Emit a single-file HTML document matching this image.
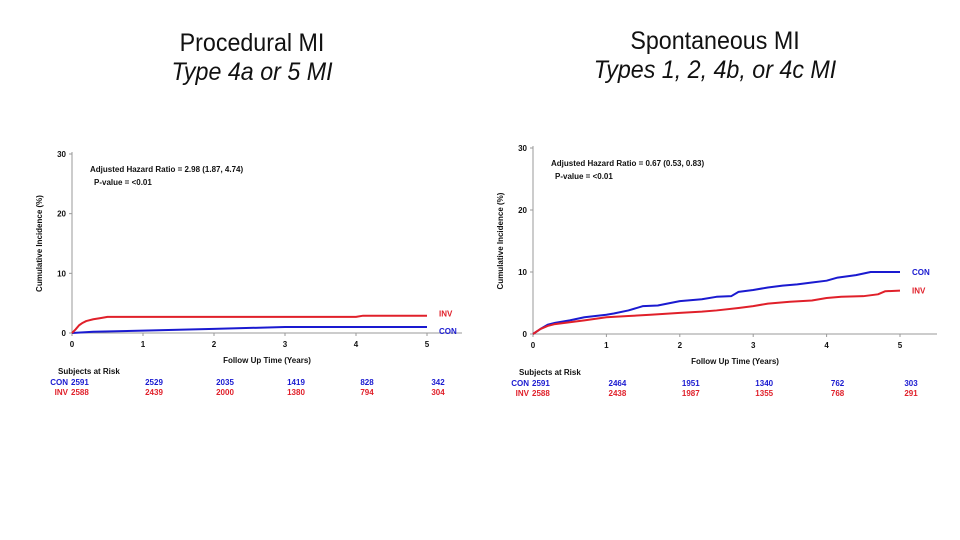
<!DOCTYPE html>
<html><head><meta charset="utf-8">
<style>
body{margin:0;width:960px;height:540px;background:#fff;overflow:hidden;font-family:"Liberation Sans",sans-serif}
.t{position:absolute;text-align:center;color:#111;font-family:"Liberation Sans",sans-serif}
</style></head><body>
<div class="t" style="left:100px;width:304px;top:29px;font-size:25px;transform:scaleX(0.93)">Procedural MI</div>
<div class="t" style="left:100px;width:304px;top:58px;font-size:25px;font-style:italic;transform:scaleX(0.93)">Type 4a or 5 MI</div>
<div class="t" style="left:560px;width:310px;top:27px;font-size:25px;transform:scaleX(0.93)">Spontaneous MI</div>
<div class="t" style="left:560px;width:310px;top:56px;font-size:25px;font-style:italic;transform:scaleX(0.93)">Types 1, 2, 4b, or 4c MI</div>
<svg id="svg" width="960" height="540" style="position:absolute;left:0;top:0"></svg>
<script>
const yTicks=[0,10,20,30];
const xTicks=[0,1,2,3,4,5];
// Left chart data
const leftInvT=[0,0.05,0.1,0.15,0.2,0.3,0.4,0.5,1,2,3,4,4.1,5];
const leftInvV=[0,0.6,1.3,1.7,2.0,2.3,2.5,2.7,2.7,2.7,2.7,2.7,2.9,2.9];
const leftConT=[0,0.3,1,2,3,4,5];
const leftConV=[0,0.2,0.4,0.7,1.0,1.0,1.0];
const leftConRisk=[2591,2529,2035,1419,828,342];
const leftInvRisk=[2588,2439,2000,1380,794,304];
// Right chart data
const rightConT=[0,0.1,0.2,0.3,0.5,0.7,1,1.1,1.3,1.5,1.7,2,2.3,2.5,2.7,2.8,3,3.2,3.4,3.6,3.8,4,4.15,4.4,4.6,5];
const rightConV=[0,0.8,1.5,1.8,2.2,2.7,3.1,3.3,3.8,4.5,4.6,5.3,5.6,6.0,6.1,6.8,7.1,7.5,7.8,8.0,8.3,8.6,9.1,9.5,10.0,10.0];
const rightInvT=[0,0.1,0.2,0.3,0.5,0.7,1,1.3,1.6,2,2.3,2.5,2.8,3,3.2,3.5,3.8,4,4.2,4.5,4.7,4.8,5];
const rightInvV=[0,0.8,1.3,1.6,1.9,2.2,2.7,2.9,3.1,3.4,3.6,3.8,4.2,4.5,4.9,5.2,5.4,5.8,6.0,6.1,6.4,6.9,7.0];
const rightConRisk=[2591,2464,1951,1340,762,303];
const rightInvRisk=[2588,2438,1987,1355,768,291];
const ns="http://www.w3.org/2000/svg",svg=document.getElementById('svg');
function mk(tag,a,txt){const e=document.createElementNS(ns,tag);for(const k in a)e.setAttribute(k,a[k]);if(txt!==undefined)e.textContent=txt;svg.appendChild(e);return e;}
const BLUE='#1a1ad0',RED='#e0202a';
function chart(p,c){
  const X=t=>c.x0+t*c.xs, Y=v=>c.y0-v*(c.y0-c.y30)/30;
  let e=mk('line',{x1:c.x0,y1:c.y30-2,x2:c.x0,y2:c.y0,stroke:'#999','stroke-width':1});
  
  e=mk('line',{x1:c.x0,y1:c.y0,x2:c.xend,y2:c.y0,stroke:'#999','stroke-width':1});
  
  yTicks.forEach(v=>{mk('line',{x1:c.x0-3,x2:c.x0,y1:Y(v),y2:Y(v),stroke:'#999'});
    e=mk('text',{x:c.x0-6,y:Y(v)+3,'text-anchor':'end','font-size':8,'font-weight':'bold',fill:'#111'},v);
    });
  xTicks.forEach(t=>{mk('line',{x1:X(t),x2:X(t),y1:c.y0,y2:c.y0+3,stroke:'#999'});
    e=mk('text',{x:X(t),y:c.y0+14,'text-anchor':'middle','font-size':8,'font-weight':'bold',fill:'#111'},t);
    });
  e=mk('text',{x:(c.x0+c.xend)/2,y:c.y0+30,'text-anchor':'middle','font-size':8,'font-weight':'bold',fill:'#111'},'Follow Up Time (Years)');
  
  const ym=(c.y0+c.y30)/2;
  e=mk('text',{x:c.x0-30,y:ym,'text-anchor':'middle','font-size':8,'font-weight':'bold',fill:'#111',transform:`rotate(-90 ${c.x0-30} ${ym})`},'Cumulative Incidence (%)');
  
  e=mk('text',{x:c.x0+18,y:c.y30+18,'font-size':8,'font-weight':'bold',fill:'#111'},c.hr);
  
  e=mk('text',{x:c.x0+22,y:c.y30+31,'font-size':8,'font-weight':'bold',fill:'#111'},'P-value = <0.01');
  
  function line(T,V,col,name){let d='M'+X(T[0])+','+Y(V[0]);for(let i=1;i<T.length;i++)d+=' L'+X(T[i])+','+Y(V[i]);
    const s=mk('path',{d,fill:'none',stroke:col,'stroke-width':2,'stroke-linejoin':'round'});return Y(V[V.length-1]);}
  const yc=line(c.conT,c.conV,BLUE,p+'-con-line'), yi=line(c.invT,c.invV,RED,p+'-inv-line');
  e=mk('text',{x:X(5)+12,y:yc+3+c.lcOff,'font-size':8,'font-weight':'bold',fill:BLUE},'CON');
  
  e=mk('text',{x:X(5)+12,y:yi+3+c.liOff,'font-size':8,'font-weight':'bold',fill:RED},'INV');
  
  e=mk('text',{x:c.x0-14,y:c.ry,'font-size':8,'font-weight':'bold',fill:'#111'},'Subjects at Risk');
  
  [[c.conR,BLUE,'CON',c.ry+11],[c.invR,RED,'INV',c.ry+21]].forEach(([R,col,lab,y])=>{
    e=mk('text',{x:c.x0-4,y,'text-anchor':'end','font-size':8,'font-weight':'bold',fill:col},lab);
    
    R.forEach((r,i)=>{e=mk('text',{x:i===0?c.x0-1:X(i)+11,y,'text-anchor':i===0?'start':'middle','font-size':8,'font-weight':'bold',fill:col},r);
      });
  });
}
chart('left',{x0:72,xs:71,xend:462,y0:333,y30:154,hr:'Adjusted Hazard Ratio = 2.98 (1.87, 4.74)',conT:leftConT,conV:leftConV,invT:leftInvT,invV:leftInvV,conR:leftConRisk,invR:leftInvRisk,ry:374,lcOff:4,liOff:-2});
chart('right',{x0:533,xs:73.4,xend:937,y0:334,y30:148,hr:'Adjusted Hazard Ratio = 0.67 (0.53, 0.83)',conT:rightConT,conV:rightConV,invT:rightInvT,invV:rightInvV,conR:rightConRisk,invR:rightInvRisk,ry:375,lcOff:0,liOff:0});
</script>
</body></html>
